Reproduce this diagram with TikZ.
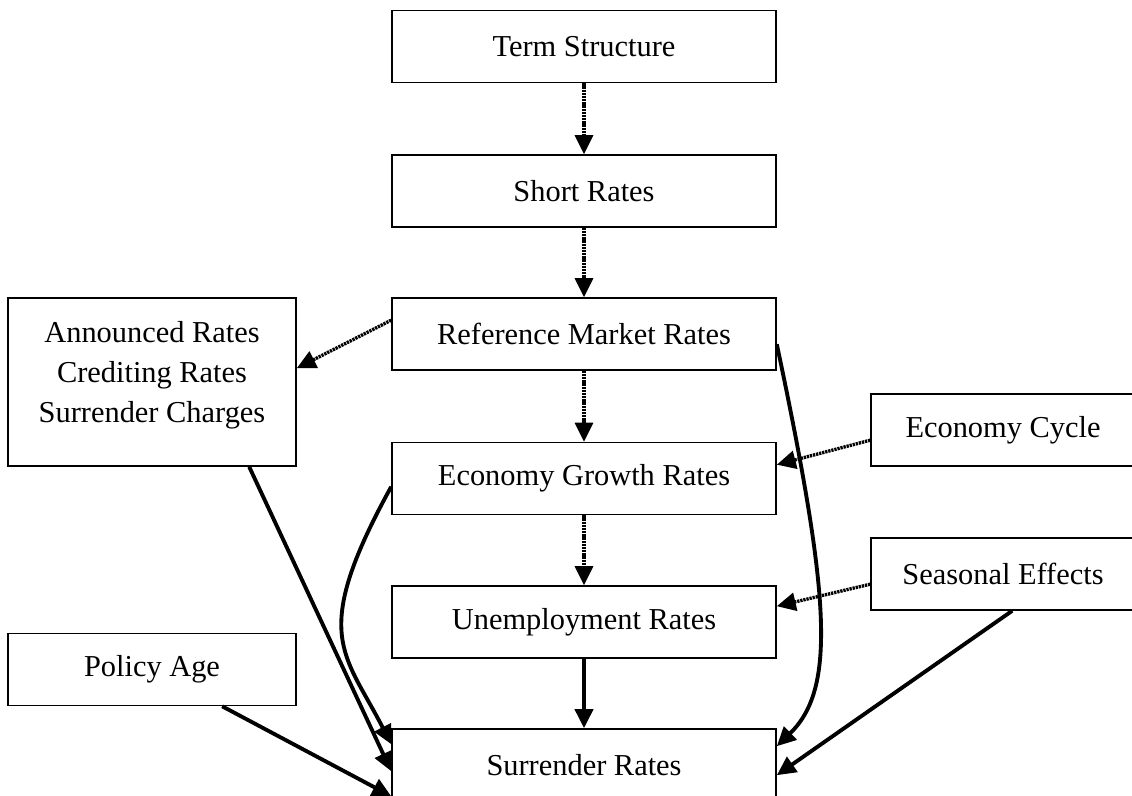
\documentclass[tikz,border=0pt]{standalone}
\usepackage{fontspec}
\setmainfont{Liberation Serif}
\usetikzlibrary{arrows.meta,calc}
\tikzset{
  box/.style={draw,line width=0.9pt,inner sep=0pt,align=center,minimum width=7.68cm,minimum height=1.44cm},
  pol/.style={box,minimum width=5.76cm},
  ext/.style={box,minimum width=5.28cm},
  arr/.style={-{Triangle[length=0.38cm,width=0.36cm]},line width=2.2pt},
  dotarr/.style={arr,line width=1.9pt,dash pattern=on 1.3pt off 0.5pt}
}

\begin{document}
\begin{tikzpicture}[font=\fontsize{17.3pt}{22.8pt}\selectfont]
\useasboundingbox (0,0) rectangle (22.64,15.9);
\node[box] (term) at (11.68,14.97) {Term Structure};
\node[box] (short) at (11.68,12.08) {Short Rates};
\node[box] (ref) at (11.68,9.22) {Reference Market Rates};
\node[box] (grow) at (11.68,6.33) {Economy Growth Rates};
\node[box] (unemp) at (11.68,3.46) {Unemployment Rates};
\node[box] (surr) at (11.68,0.6) {Surrender Rates};
\node[pol,minimum height=3.36cm,text depth=0.4cm] (ann) at (3.04,8.26) {Announced Rates\\Crediting Rates\\Surrender Charges};
\node[pol] (age) at (3.04,2.51) {Policy Age};
\node[ext] (cyc) at (20.06,7.3) {Economy Cycle};
\node[ext] (seas) at (20.06,4.42) {Seasonal Effects};
% main column
\draw[dotarr] (term)--(short); \draw[dotarr] (short)--(ref); \draw[dotarr] (ref)--(grow); \draw[dotarr] (grow)--(unemp);
\draw[arr] (unemp)--(surr);
% side inputs
\draw[dotarr] ($(ref.north west)+(0,-0.46)$)--($(ann.north east)+(0,-1.42)$);
\draw[dotarr] ($(cyc.north west)+(0,-0.94)$)--($(grow.north east)+(0,-0.46)$);
\draw[dotarr] ($(seas.north west)+(0,-0.94)$)--($(unemp.north east)+(0,-0.42)$);
% into surrender rates
\draw[arr] ($(ref.north east)+(0,-0.94)$) .. controls +(1.08,-5.1) and +(1.18,1.14) .. ($(surr.north east)+(0,-0.36)$);
\draw[arr] ($(grow.north west)+(0,-0.9)$) .. controls +(-1.64,-2.98) and +(-0.94,1.84) .. ($(surr.north west)+(0,-0.32)$);
\draw[arr] ($(ann.south west)+(4.84,0)$)--($(surr.north west)+(0,-0.86)$);
\draw[arr] ($(age.south west)+(4.3,0)$)--($(surr.north west)+(0,-1.36)$);
\draw[arr] ($(seas.south west)+(2.84,0)$)--($(surr.north east)+(0,-0.94)$);
\end{tikzpicture}
\end{document}
